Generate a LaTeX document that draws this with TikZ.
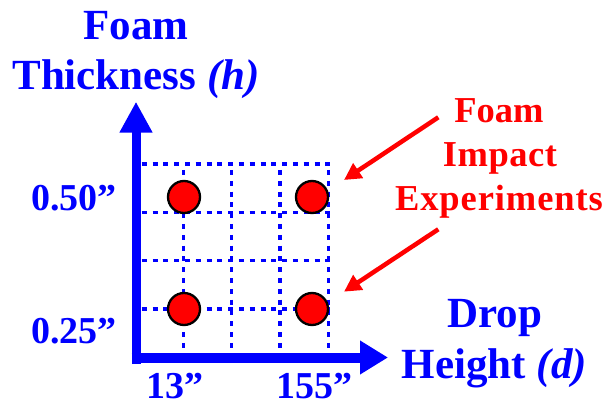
\documentclass[tikz,border=0pt]{standalone}
\usepackage{fontspec}
\setmainfont{Liberation Serif}
\usetikzlibrary{arrows.meta}
\definecolor{pblue}{RGB}{0,0,255}
\definecolor{pred}{RGB}{255,0,0}
\begin{document}
\begin{tikzpicture}[x=1pt,y=-1pt,
  bluebig/.style={text=pblue,font=\fontsize{43}{51}\selectfont\bfseries,inner sep=0,anchor=base},
  bluetick/.style={text=pblue,font=\fontsize{38}{45}\selectfont\bfseries,inner sep=0,text depth=0pt},
  redtxt/.style={text=pred,font=\fontsize{36.5}{44}\selectfont\bfseries,inner sep=0,anchor=base},
  gridline/.style={draw=pblue,line width=3.3pt,dash pattern=on 5pt off 5.8pt},
  expdot/.style={circle,fill=pred,draw=black,line width=2.3pt,minimum size=32pt,inner sep=0},
  axisline/.style={draw=pblue},
  pointer/.style={draw=pred,line width=4.5pt,-{Triangle[length=17pt,width=17pt]}}
]
\useasboundingbox (0,0) rectangle (605,406);
% grid
\foreach \yy in {164,212.3,260.7,309}
  \draw[gridline] (141.7,\yy) -- (330,\yy);
\foreach \xx in {183.3,231.7,280,328.3}
  \draw[gridline] (\xx,170) -- (\xx,348);
% axes
\coordinate (vbot) at (136,364);
\coordinate (vtop) at (136,101.7);
\coordinate (hleft) at (131.7,357.5);
\coordinate (hright) at (388,357.5);
\draw[axisline,line width=9pt,-{Triangle[length=31pt,width=31pt]}] (vbot) -- (vtop);
\draw[axisline,line width=10pt,-{Triangle[length=28pt,width=32pt]}] (hleft) -- (hright);
% experiment points
\node[expdot] (p1) at (184,197) {};
\node[expdot] (p2) at (312,197) {};
\node[expdot] (p3) at (184,309) {};
\node[expdot] (p4) at (312,309) {};
% axis labels
\node[bluebig] (yl1) at (136,39.3) {Foam};
\node[bluebig] (yl2) at (136,90) {Thickness \textit{(h)}};
\node[bluebig] (xl1) at (495,327.3) {Drop};
\node[bluebig] (xl2) at (494.5,378.3) {Height \textit{(d)}};
% tick labels
\node[bluetick,anchor=base east] (t50) at (116.7,210.7) {0.50”};
\node[bluetick,anchor=base east] (t25) at (116.7,343.3) {0.25”};
\node[bluetick,anchor=base west] (t13) at (146.7,398.5) {13”};
\node[bluetick,anchor=base west] (t155) at (276.7,398.5) {155”};
% red labels
\node[redtxt] (r1) at (499,122.7) {Foam};
\node[redtxt] (r2) at (500,166.3) {\addfontfeature{LetterSpace=1.5}Impact};
\node[redtxt] (r3) at (499,210.7) {\addfontfeature{LetterSpace=2.5}Experiments};
\coordinate (a1s) at (438.3,117.3);
\coordinate (a1e) at (344,180);
\coordinate (a2s) at (438.3,229.3);
\coordinate (a2e) at (344,291.7);
\draw[pointer] (a1s) -- (a1e);
\draw[pointer] (a2s) -- (a2e);
\end{tikzpicture}
\end{document}
